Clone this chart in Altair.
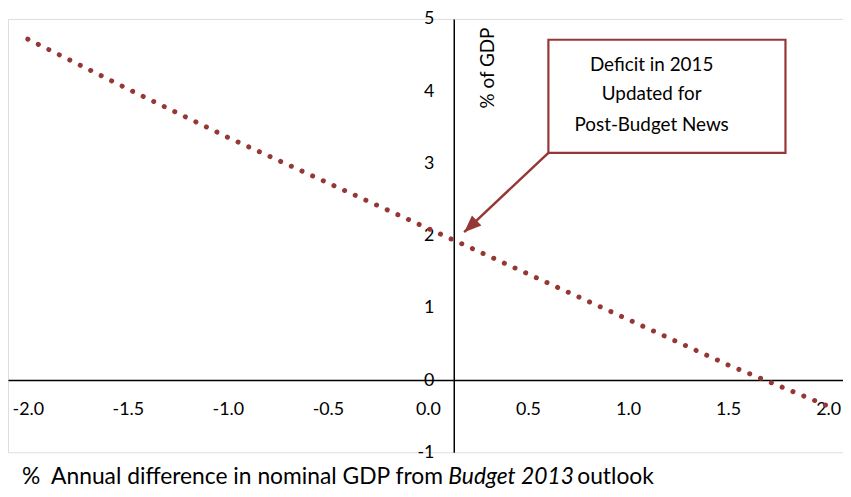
import altair as alt
import pandas as pd
import math

# ---- data ----
gdp_diff = [-2.0, -1.5, -1.0, -0.5, 0.0, 0.5, 1.0, 1.5, 2.0]
deficit = [4.72, 4.03, 3.36, 2.73, 2.10, 1.47, 0.84, 0.21, -0.36]
x_ticks = [-2.0, -1.5, -1.0, -0.5, 0.0, 0.5, 1.0, 1.5, 2.0]
y_ticks = [-1, 0, 1, 2, 3, 4, 5]
box_lines = ["Deficit in 2015", "Updated for", "Post-Budget News"]
title_parts = ["% \u00a0Annual difference in nominal GDP from", "Budget 2013", "outlook"]

FONT = "Lato"
RED = "#953735"
W, H = 842, 437
XD = [-2.099, 2.0745]
YD = [-1, 5]
Y_AXIS_AT = 0.129  # x value where the vertical axis crosses


def px(x):
    return (x - XD[0]) / (XD[1] - XD[0]) * W


def py(y):
    return (YD[1] - y) / (YD[1] - YD[0]) * H


df = pd.DataFrame({"x": gdp_diff, "y": deficit})

xs = alt.Scale(domain=XD, nice=False, zero=False)
ys = alt.Scale(domain=YD, nice=False, zero=False)

x_lab = "datum.value < 0 ? '-' + format(-datum.value, '.1f') : format(datum.value, '.1f')"
y_lab = "datum.value < 0 ? '-' + format(-datum.value, 'd') : format(datum.value, 'd')"

line = alt.Chart(df).mark_line(
    color=RED, strokeWidth=5, strokeDash=[0.1, 11.7], strokeCap="round"
).encode(
    x=alt.X("x:Q", scale=xs, title="",
            axis=alt.Axis(orient="bottom", offset=-(H - py(0)), values=x_ticks,
                          labelExpr=x_lab,
                          ticks=False, tickSize=0, grid=False, domainColor="black",
                          domainWidth=1.5, labelFont=FONT, labelFontSize=18,
                          labelColor="black", labelPadding=21, labelFlush=False,
                          labelOverlap=False)),
    y=alt.Y("y:Q", scale=ys, title="% of GDP",
            axis=alt.Axis(orient="left", offset=-px(Y_AXIS_AT), values=y_ticks,
                          labelExpr=y_lab,
                          ticks=False, tickSize=0, grid=False, domainColor="black",
                          domainWidth=1.5, labelFont=FONT, labelFontSize=18,
                          labelColor="black", labelPadding=20, labelFlush=False,
                          labelOverlap=False, titleFont=FONT, titleFontSize=19,
                          titleFontWeight="normal", titleColor="black", titleAngle=270,
                          titleX=34, titleY=49, titleAlign="center",
                          titleBaseline="middle")),
)

# annotation box
bx0, bx1, by0, by1 = 0.602, 1.787, 3.146, 4.712
box_df = pd.DataFrame({"x": [bx0], "x2": [bx1], "y": [by0], "y2": [by1]})
box = alt.Chart(box_df).mark_rect(fill="white", stroke=RED, strokeWidth=2.2).encode(
    x=alt.X("x:Q", scale=xs), x2="x2", y=alt.Y("y:Q", scale=ys), y2="y2"
)

text_x = 1.118
text_df = pd.DataFrame({"t": box_lines, "x": [text_x] * 3, "y": [4.355, 3.957, 3.531]})
box_text = alt.Chart(text_df).mark_text(font=FONT, fontSize=19, color="black",
                                        align="center", baseline="middle").encode(
    x=alt.X("x:Q", scale=xs), y=alt.Y("y:Q", scale=ys), text="t:N"
)

# arrow
tip = (0.181, 2.048)
tail = (bx0, by0)
arrow_df = pd.DataFrame({"x": [tail[0]], "y": [tail[1]], "x2": [tip[0]], "y2": [tip[1]]})
shaft = alt.Chart(arrow_df).mark_rule(color=RED, strokeWidth=2.5).encode(
    x=alt.X("x:Q", scale=xs), y=alt.Y("y:Q", scale=ys), x2="x2", y2="y2"
)
dxp = px(tip[0]) - px(tail[0])
dyp = py(tip[1]) - py(tail[1])
ang = math.degrees(math.atan2(dxp, -dyp)) % 360
head_df = pd.DataFrame({"x": [tip[0]], "y": [tip[1]]})
head = alt.Chart(head_df).mark_point(
    shape="M0,0L-0.8,2L0.8,2Z", filled=True, fill=RED, color=RED, opacity=1,
    size=300, angle=ang, strokeWidth=0
).encode(x=alt.X("x:Q", scale=xs), y=alt.Y("y:Q", scale=ys))

# x title with italic part
title_y = 469
TFS = 23
t1 = alt.Chart(head_df).mark_text(text=title_parts[0], font=FONT, fontSize=TFS, color="black",
                                  align="left", baseline="alphabetic").encode(
    x=alt.value(14), y=alt.value(title_y))
t2 = alt.Chart(head_df).mark_text(text=title_parts[1], font=FONT, fontSize=TFS, color="black",
                                  fontStyle="italic", align="left",
                                  baseline="alphabetic").encode(
    x=alt.value(444), y=alt.value(title_y))
t3 = alt.Chart(head_df).mark_text(text=title_parts[2], font=FONT, fontSize=TFS, color="black",
                                  align="left", baseline="alphabetic").encode(
    x=alt.value(574), y=alt.value(title_y))

chart = alt.layer(line, shaft, head, box, box_text, t1, t2, t3).properties(
    width=W, height=H,
    autosize=alt.AutoSizeParams(type="none"),
    padding={"left": 0, "top": 9, "right": 0, "bottom": 38},
).configure_view(stroke="transparent", strokeWidth=0).configure(background="white")

chart.save("out.html", embed_options={"renderer": "svg", "actions": False})
